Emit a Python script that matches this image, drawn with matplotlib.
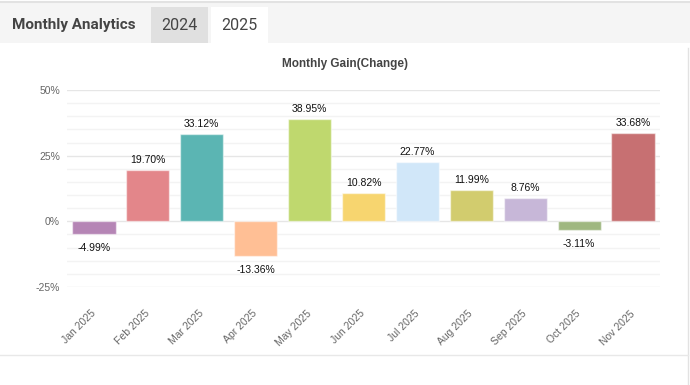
import numpy as np
import matplotlib
matplotlib.use("Agg")
import matplotlib.pyplot as plt
from matplotlib.patches import Rectangle
from matplotlib.lines import Line2D

months = ["Jan 2025", "Feb 2025", "Mar 2025", "Apr 2025", "May 2025", "Jun 2025",
          "Jul 2025", "Aug 2025", "Sep 2025", "Oct 2025", "Nov 2025"]
gains = [-4.99, 19.70, 33.12, -13.36, 38.95, 10.82, 22.77, 11.99, 8.76, -3.11, 33.68]
colors = ["#b585b5", "#e3868a", "#5bb5b3", "#ffbf95", "#bfd86e", "#f7d56f",
          "#d1e7f9", "#d2cc6e", "#c7b7d8", "#9fb780", "#c77072"]
tabs = ["2024", "2025"]

W, H = 690, 385
fig = plt.figure(figsize=(W / 100, H / 100), dpi=100)
fig.patch.set_facecolor("white")


def fx(px):
    return px / W


def fy(py):
    return 1 - py / H


# header band
fig.patches.append(Rectangle((0, fy(43)), 1, fy(2) - fy(43), transform=fig.transFigure,
                             facecolor="#f5f5f5", edgecolor="none", zorder=0))
fig.add_artist(Line2D([0, 1], [fy(2), fy(2)], color="#e2e2e2", lw=1.5))
fig.text(fx(12), fy(25), "Monthly Analytics", fontsize=11, fontweight="bold",
         family="Roboto", color="#444444", va="center", ha="left")
tab_x = [151, 211]
tab_bg = ["#e0e0e0", "#ffffff"]
for t, x0, bg in zip(tabs, tab_x, tab_bg):
    fig.patches.append(Rectangle((fx(x0), fy(43)), fx(57), fy(7) - fy(43),
                                 transform=fig.transFigure, facecolor=bg,
                                 edgecolor="none", zorder=1))
    fig.text(fx(x0 + 28.5), fy(25), t, fontsize=11.5, family="Roboto",
             color="#444444", va="center", ha="center", zorder=2)

# card borders
fig.add_artist(Line2D([fx(688), fx(688)], [0, fy(48)], color="#e2e2e2", lw=1))
fig.add_artist(Line2D([0, fx(688)], [fy(355), fy(355)], color="#e8e8e8", lw=1))

# chart
ax = fig.add_axes([fx(67), fy(287), fx(660 - 67), fy(90) - fy(287)])
ax.set_facecolor("none")
x = np.arange(len(months))
ax.bar(x, gains, width=0.8, color=colors, edgecolor=(1, 1, 1, 0.5), linewidth=1, zorder=3)
ax.set_xlim(-0.5, len(months) - 0.5)
ax.set_ylim(-25, 50)

ax.set_yticks([-25, 0, 25, 50])
ax.set_yticklabels(["-25%", "0%", "25%", "50%"])
ax.set_yticks(np.arange(-25, 51, 5), minor=True)
ax.grid(True, which="major", axis="y", color="#e6e6e6", lw=1, zorder=0)
ax.grid(True, which="minor", axis="y", color="#f3f3f3", lw=1, zorder=0)
ax.tick_params(axis="y", which="both", length=0, pad=5, labelsize=7.5, labelcolor="#666666")
ax.tick_params(axis="x", length=0, pad=18, labelsize=7.5, labelcolor="#666666")
ax.set_xticks(x)
ax.set_xticklabels(months, rotation=45, ha="right", va="center",
                   rotation_mode="anchor", family="Liberation Sans")
for lbl in ax.get_yticklabels():
    lbl.set_family("Liberation Sans")
for s in ax.spines.values():
    s.set_visible(False)

for xi, v in zip(x, gains):
    if v >= 0:
        ax.annotate(f"{v:.2f}%", (xi, v), xytext=(0, 10), textcoords="offset pixels",
                    ha="center", va="center", fontsize=7.5, family="Liberation Sans",
                    color="#111111")
    else:
        ax.annotate(f"{v:.2f}%", (xi, v), xytext=(0, -14), textcoords="offset pixels",
                    ha="center", va="center", fontsize=7.5, family="Liberation Sans",
                    color="#111111")

fig.text(0.5, fy(64), "Monthly Gain(Change)", ha="center", va="center", fontsize=8.5,
         fontweight="bold", family="Liberation Sans", color="#444444")

fig.savefig("out.png", dpi=100)
